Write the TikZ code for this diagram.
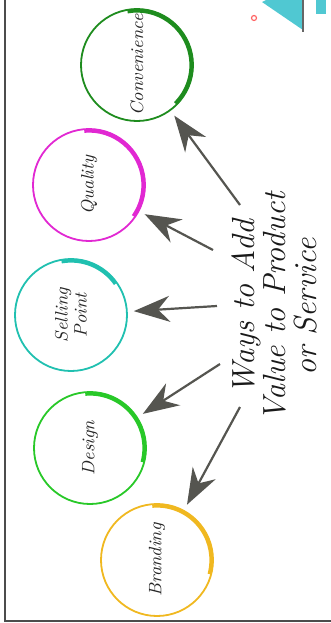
\documentclass[tikz,border=0pt]{standalone}
\usetikzlibrary{arrows.meta}

\definecolor{convgreen}{RGB}{30,140,30}
\definecolor{qualpink}{RGB}{225,40,210}
\definecolor{sellteal}{RGB}{32,192,176}
\definecolor{dsgngreen}{RGB}{40,200,40}
\definecolor{brandgold}{RGB}{240,184,32}
\definecolor{arrowgrey}{RGB}{85,85,80}
\definecolor{fragcyan}{RGB}{80,200,210}

\tikzset{
  ring/.style={circle, line width=0.9pt, minimum size=56pt, inner sep=0pt,
    align=center, rotate=90, text=black!85,
    font=\fontsize{9}{9.5}\selectfont\itshape},
  pointer/.style={color=arrowgrey, line width=1.1pt,
    -{Stealth[length=18pt,width=13pt]}, shorten >=3pt},
}

\begin{document}
\begin{tikzpicture}[x=0.5pt,y=0.5pt]
  \useasboundingbox (0,0) rectangle (331,-623);

  % frame and corner fragment
  \draw[line width=1pt, black!70] (5,0) -- (5,-621) -- (331,-621);
  \fill[fragcyan] (262,-2) -- (303,-30) -- (303,0) -- (266,0) -- cycle;
  \fill[fragcyan] (316,0) rectangle (326,-14);
  \draw[line width=0.8pt, black!60] (303,0) -- (303,-32);
  \draw[red!60, line width=0.6pt] (254,-18) circle (2.5);

  \node[ring, draw=convgreen] (conv) at (137,-65) {Convenience};
  \node[ring, draw=qualpink] (qual) at (89,-185) {Quality};
  \node[ring, draw=sellteal] (sell) at (71,-315) {Selling\\Point};
  \node[ring, draw=dsgngreen] (dsgn) at (90,-448) {Design};
  \node[ring, draw=brandgold] (brand) at (157,-560) {Branding};

  \foreach \n/\a/\b/\c in {conv/100/-45/convgreen, qual/95/-35/qualpink,
      sell/100/35/sellteal, dsgn/95/-15/dsgngreen, brand/95/-15/brandgold}
    \draw[\c, line width=2pt] ([shift={(\a:27.2pt)}]\n.center)
      arc[start angle=\a, end angle=\b, radius=27.2pt];

  \node[rotate=90, align=center, text=black!90,
    font=\fontsize{16}{15.5}\selectfont\itshape] (title) at (274,-307)
    {Ways to Add\\Value to Product\\or Service};

  \coordinate (t1) at (240,-205);
  \coordinate (t2) at (213,-250);
  \coordinate (t3) at (217,-306);
  \coordinate (t4) at (220,-364);
  \coordinate (t5) at (240,-407);

  \path[pointer]
    (t1) edge (conv)
    (t2) edge (qual)
    (t3) edge (sell)
    (t4) edge (dsgn)
    (t5) edge (brand)
  ;
\end{tikzpicture}
\end{document}
